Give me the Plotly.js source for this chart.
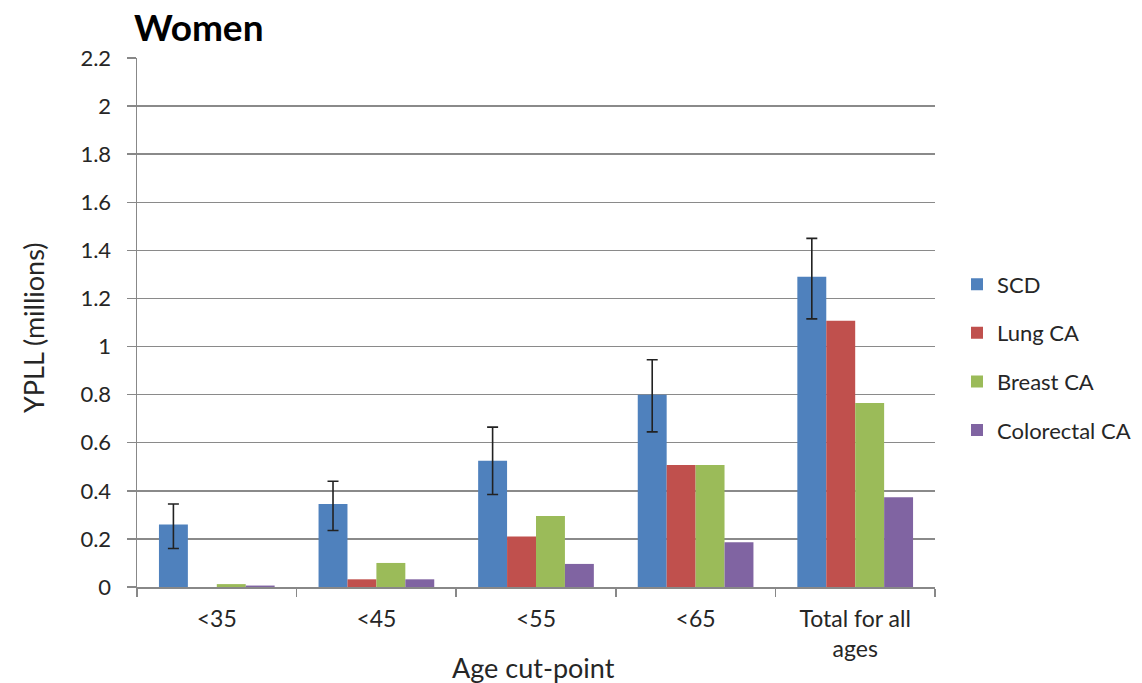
<!DOCTYPE html>
<html>
<head>
<meta charset="utf-8">
<script src="https://cdn.plot.ly/plotly-3.0.1.min.js"></script>
<style>html,body{margin:0;padding:0;background:#fff;}#chart{width:1142px;height:683px;}</style>
</head>
<body>
<div id="chart"></div>
<script>
const categories = ["<35", "<45", "<55", "<65", "Total for all<br>ages"];
const seriesNames = ["SCD", "Lung CA", "Breast CA", "Colorectal CA"];
const scd = [0.26, 0.345, 0.525, 0.80, 1.29];
const scdErrPlus = [0.085, 0.095, 0.14, 0.145, 0.16];
const scdErrMinus = [0.10, 0.11, 0.14, 0.155, 0.175];
const lungCA = [0.0, 0.032, 0.21, 0.507, 1.107];
const breastCA = [0.012, 0.10, 0.295, 0.507, 0.765];
const colorectalCA = [0.006, 0.032, 0.096, 0.186, 0.373];
const colors = ["#4F81BD", "#C0504D", "#9BBB59", "#8064A2"];
const yTicks = [0, 0.2, 0.4, 0.6, 0.8, 1, 1.2, 1.4, 1.6, 1.8, 2, 2.2];
const yTickText = ["0", "0.2", "0.4", "0.6", "0.8", "1", "1.2", "1.4", "1.6", "1.8", "2", "2.2"];
const xTitle = "Age cut-point";
const yTitle = "YPLL (millions)";
const chartTitle = "Women";

const values = [scd, lungCA, breastCA, colorectalCA];
const traces = values.map((v, i) => {
  const t = {
    type: "bar",
    name: seriesNames[i],
    x: categories,
    y: v,
    legendgroup: "g" + i,
    marker: {color: colors[i], line: {width: 0}}
  };
  if (i === 0) {
    t.error_y = {
      type: "data", symmetric: false,
      array: scdErrPlus, arrayminus: scdErrMinus,
      color: "#222", thickness: 1.6, width: 5.5
    };
  }
  return t;
});

const font = "Lato, 'Open Sans', sans-serif";
const txt = "#262626";
const layout = {
  width: 1142, height: 683,
  margin: {l: 137, r: 207, t: 58, b: 96, autoexpand: false},
  paper_bgcolor: "#fff", plot_bgcolor: "#fff",
  barmode: "group", bargap: 0.275, bargroupgap: 0,
  title: {text: "<b>" + chartTitle + "</b>", font: {family: font, size: 37, color: "#000"},
          x: 134/1142, xanchor: "left", y: 1 - 28/683, yanchor: "middle"},
  font: {family: font, color: txt},
  xaxis: {
    type: "category",
    tickson: "boundaries", ticks: "outside", ticklen: 8, tickcolor: "#888", tickwidth: 1.5,
    showline: true, linecolor: "#888", linewidth: 1.5,
    ticklabelstandoff: 11,
    tickfont: {family: font, size: 23, color: txt},
    fixedrange: true
  },
  yaxis: {
    range: [0, 2.2], tickvals: yTicks, ticktext: yTickText,
    showgrid: true, gridcolor: "#8a8a8a", gridwidth: 1.5,
    showline: true, linecolor: "#888", linewidth: 1.5,
    ticks: "outside", ticklen: 9, tickcolor: "#888", tickwidth: 1.5,
    ticklabelstandoff: 11,
    zeroline: false,
    tickfont: {family: font, size: 22, color: txt}
  },
  annotations: [
    {text: xTitle, xref: "paper", yref: "paper", x: (533 - 137) / 798, y: -(667 - 587) / 529,
     xanchor: "center", yanchor: "middle", showarrow: false,
     font: {family: font, size: 27, color: txt}},
    {text: yTitle, xref: "paper", yref: "paper", x: (33 - 137) / 798, y: (587 - 328) / 529,
     xanchor: "center", yanchor: "middle", showarrow: false, textangle: -90,
     font: {family: font, size: 27, color: txt}}
  ],
  legend: {
    x: (957 - 137) / 798, xanchor: "left", y: 0.434, yanchor: "middle",
    font: {family: font, size: 22, color: txt},
    traceorder: "grouped", tracegroupgap: 17,
    bgcolor: "rgba(0,0,0,0)"
  },
  showlegend: true
};

Plotly.newPlot("chart", traces, layout, {displayModeBar: false, staticPlot: true});
</script>
</body>
</html>
